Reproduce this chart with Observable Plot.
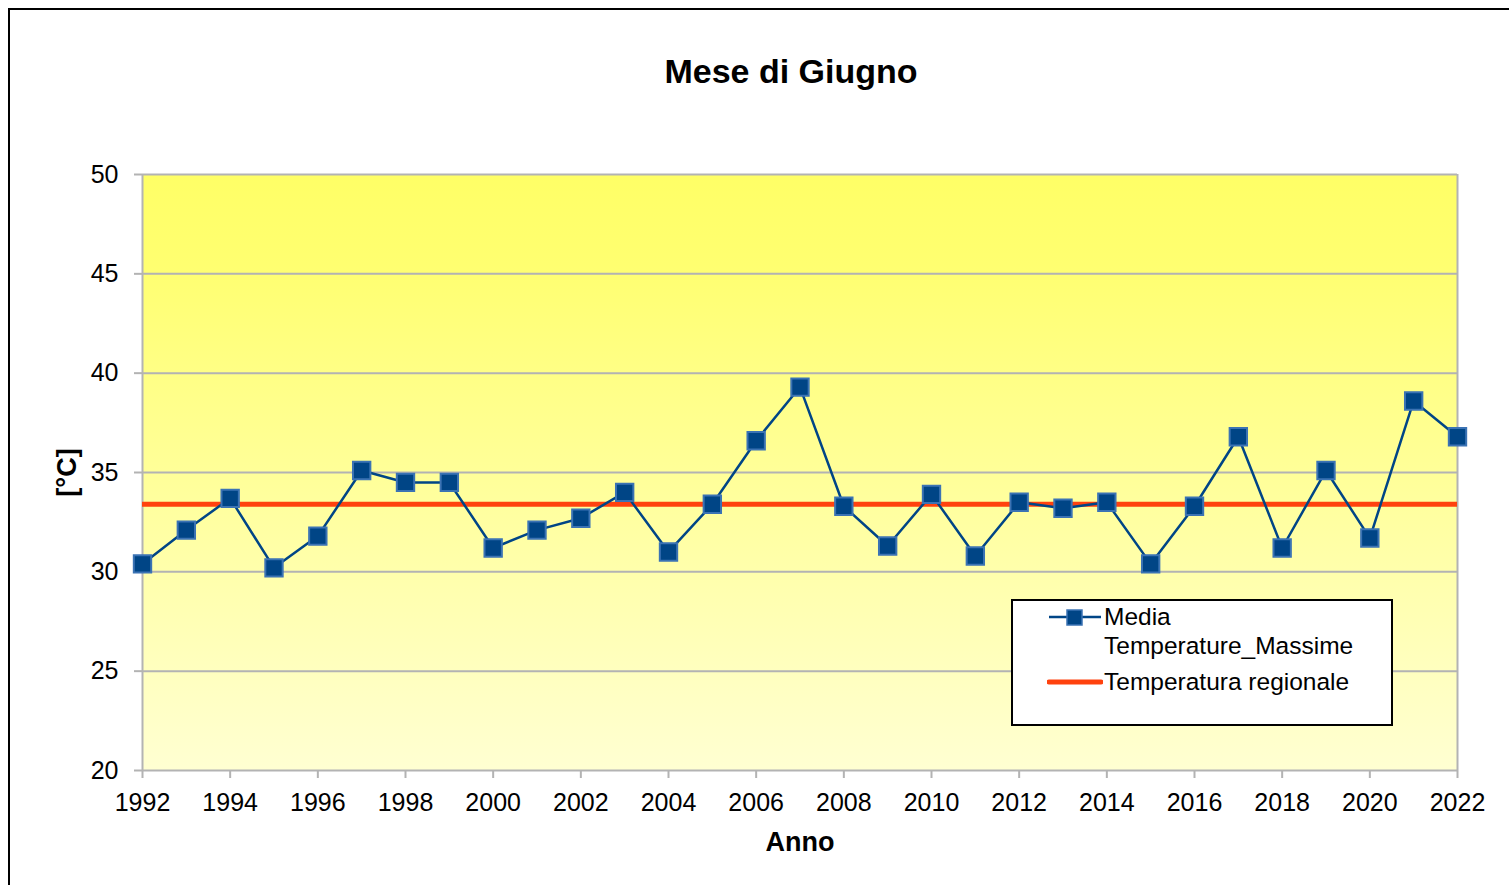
<!DOCTYPE html>
<html><head><meta charset="utf-8">
<script src="https://cdn.jsdelivr.net/npm/d3@7"></script>
<script src="https://cdn.jsdelivr.net/npm/@observablehq/plot@0.6"></script>
<style>
html,body{margin:0;padding:0;background:#fff;overflow:hidden;width:1509px;height:885px}
#wrap{position:relative;width:1509px;height:885px;font-family:"Liberation Sans",Arial,sans-serif}
#border{position:absolute;left:8px;top:8px;width:1530px;height:920px;border:2px solid #000;box-sizing:border-box;pointer-events:none}
#title{position:absolute;left:0;top:52px;width:1582px;text-align:center;font-weight:bold;font-size:34px;color:#000}
#chart{position:absolute;left:0;top:0}
#legend{position:absolute;left:1011px;top:599px;width:382px;height:127px;box-sizing:border-box;border:2px solid #000;background:#fff;font-size:24.5px;color:#000}
.lrow{position:absolute;left:34px;display:flex;align-items:flex-start}
.lrow svg{flex:none}
.ltxt{margin-left:1px;line-height:29px}
</style></head>
<body>
<div id="wrap">
  <div id="chart"></div>
  <div id="title">Mese di Giugno</div>
  <div id="legend">
    <div class="lrow" style="top:1px"><svg width="56" height="29"><line x1="2" x2="54" y1="15" y2="15" stroke="#004586" stroke-width="2.5"/><rect x="20" y="8" width="15" height="15" fill="#004586" stroke="#3b73b4" stroke-width="1.5"/></svg><div class="ltxt">Media<br>Temperature_Massime</div></div>
    <div class="lrow" style="top:66px"><svg width="56" height="29"><line x1="2" x2="54" y1="15" y2="15" stroke="#ff420e" stroke-width="5" stroke-linecap="round"/></svg><div class="ltxt">Temperatura regionale</div></div>
  </div>
  <div id="border"></div>
</div>
<script>
const years = [1992,1993,1994,1995,1996,1997,1998,1999,2000,2001,2002,2003,2004,2005,2006,2007,2008,2009,2010,2011,2012,2013,2014,2015,2016,2017,2018,2019,2020,2021,2022];
const mediaMassime = [30.4,32.1,33.7,30.2,31.8,35.1,34.5,34.5,31.2,32.1,32.7,34.0,31.0,33.4,36.6,39.3,33.3,31.3,33.9,30.8,33.5,33.2,33.5,30.4,33.3,36.8,31.2,35.1,31.7,38.6,36.8];
const temperaturaRegionale = 33.4;
const yTicks = [20,25,30,35,40,45,50];
const xTicks = [1992,1994,1996,1998,2000,2002,2004,2006,2008,2010,2012,2014,2016,2018,2020,2022];

const data = years.map((y, i) => ({anno: y, t: mediaMassime[i]}));

const defs = () => {
  const g = d3.create("svg:defs");
  const lg = g.append("linearGradient").attr("id", "bg").attr("x1", 0).attr("y1", 0).attr("x2", 0).attr("y2", 1);
  lg.append("stop").attr("offset", "0%").attr("stop-color", "#ffff66");
  lg.append("stop").attr("offset", "15%").attr("stop-color", "#ffff70");
  lg.append("stop").attr("offset", "100%").attr("stop-color", "#ffffd2");
  return g.node();
};

const chart = Plot.plot({
  width: 1509,
  height: 885,
  marginLeft: 142,
  marginRight: 52,
  marginTop: 174,
  marginBottom: 115,
  style: {fontFamily: "'Liberation Sans', Arial, sans-serif", fontSize: "25px", color: "#000", background: "transparent"},
  x: {domain: [1992, 2022], ticks: xTicks, tickFormat: "d", label: null},
  y: {domain: [20, 50], ticks: yTicks, label: null},
  marks: [
    defs,
    Plot.frame({fill: "url(#bg)", stroke: "none"}),
    Plot.ruleY(yTicks.slice(1), {stroke: "#b3b3b3", strokeWidth: 2}),
    Plot.ruleX([1992, 2022], {stroke: "#b3b3b3", strokeWidth: 2}),
    Plot.ruleY([20], {stroke: "#b3b3b3", strokeWidth: 2}),
    Plot.axisY({ticks: yTicks, tickSize: 8, tickPadding: 16, stroke: "#b3b3b3", strokeWidth: 2, fontSize: 25, label: null}),
    Plot.axisX({ticks: xTicks, tickFormat: "d", tickSize: 8, tickPadding: 15, stroke: "#b3b3b3", strokeWidth: 2, fontSize: 25, label: null}),
    Plot.ruleY([temperaturaRegionale], {x1: 1992, x2: 2022, stroke: "#ff420e", strokeWidth: 5}),
    Plot.line(data, {x: "anno", y: "t", stroke: "#004586", strokeWidth: 2.5}),
    Plot.dot(data, {x: "anno", y: "t", symbol: "square", r: 9.8, fill: "#004586", stroke: "#3b73b4", strokeWidth: 2}),
    Plot.text(["Anno"], {frameAnchor: "bottom", dy: 80, fontWeight: "bold", fontSize: 27, textAnchor: "middle"}),
    Plot.text(["[°C]"], {frameAnchor: "left", dx: -75, rotate: -90, fontWeight: "bold", fontSize: 27, textAnchor: "middle"})
  ]
});
document.getElementById("chart").appendChild(chart);
</script>
</body></html>
